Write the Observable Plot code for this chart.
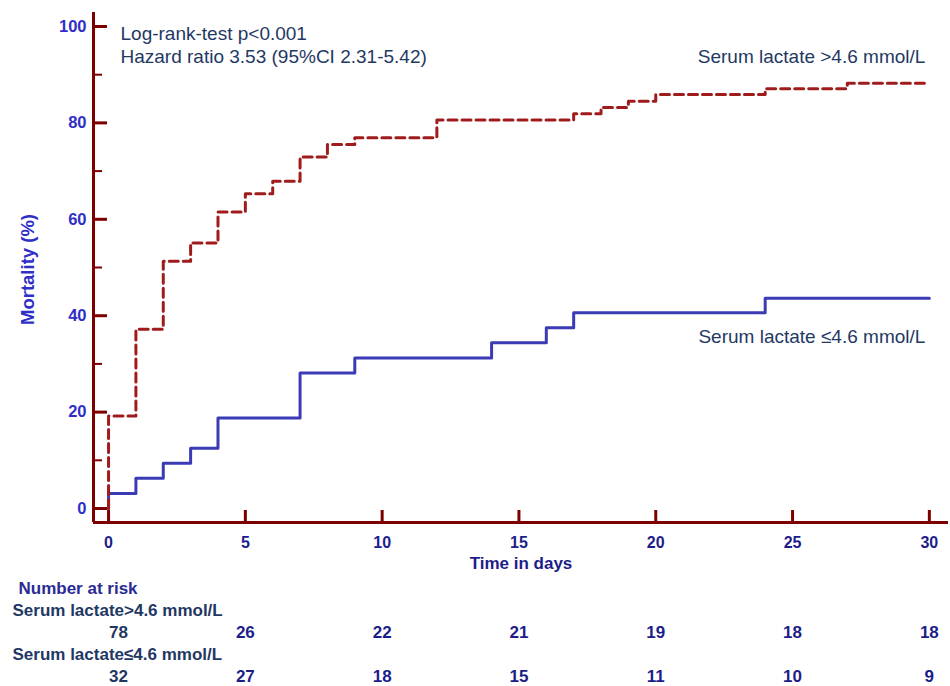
<!DOCTYPE html>
<html>
<head>
<meta charset="utf-8">
<script src="https://cdn.jsdelivr.net/npm/d3@7"></script>
<script src="https://cdn.jsdelivr.net/npm/@observablehq/plot@0.6"></script>
<style>
  html, body { margin: 0; padding: 0; background: #ffffff; }
  #chart svg { display: block; }
</style>
</head>
<body>
<div id="chart"></div>
<script>
// ---- data ----
const highTimes = [0, 0, 1, 2, 3, 4, 5, 6, 7, 8, 9, 12, 17, 18, 19, 20, 24, 27, 30];
const highMortality = [0, 19.2, 37.2, 51.3, 55.1, 61.5, 65.3, 67.9, 72.9, 75.5, 76.9, 80.6, 81.9, 83.2, 84.5, 85.9, 87.1, 88.2, 88.2];
const lowTimes = [0, 0, 1, 2, 3, 4, 7, 9, 14, 16, 17, 24, 30];
const lowMortality = [0, 3.1, 6.3, 9.4, 12.5, 18.8, 28.1, 31.2, 34.4, 37.5, 40.6, 43.6, 43.6];
const xTicks = [0, 5, 10, 15, 20, 25, 30];
const yTicks = [0, 20, 40, 60, 80, 100];
const yMinorTicks = [10, 30, 50, 70, 90];
const riskTimes = [0, 5, 10, 15, 20, 25, 30];
const riskHigh = [78, 26, 22, 21, 19, 18, 18];
const riskLow = [32, 27, 18, 15, 11, 10, 9];
const groupLabels = ["Serum lactate >4.6 mmol/L", "Serum lactate \u22644.6 mmol/L"];
const riskRowLabels = ["Serum lactate>4.6 mmol/L", "Serum lactate\u22644.6 mmol/L"];
const riskTitle = "Number at risk";
const statsLines = ["Log-rank-test p<0.001", "Hazard ratio 3.53 (95%CI 2.31-5.42)"];
const xTitle = "Time in days";
const yTitle = "Mortality (%)";

// ---- derived tables ----
const highData = highTimes.map((t, i) => ({t, m: highMortality[i]}));
const lowData = lowTimes.map((t, i) => ({t, m: lowMortality[i]}));
const riskData = [
  ...riskTimes.map((t, i) => ({t, row: "hi", n: riskHigh[i]})),
  ...riskTimes.map((t, i) => ({t, row: "lo", n: riskLow[i]}))
];
const rowKeys = ["head", "hiLabel", "hi", "loLabel", "lo"];
const rowLabelData = [{row: "hiLabel", label: riskRowLabels[0]}, {row: "loLabel", label: riskRowLabels[1]}];

// ---- styles ----
const FONT = "Arial, 'Liberation Sans', Helvetica, sans-serif";
const axisColor = "#7d0000";
const redLine = "#a01c1c";
const blueLine = "#3b3bb5";
const navy = "#1f3864";
const tickBlue = "#2f2fc8";
const darkBlue = "#1d1d8a";

const xDomain = [-0.55, 30.7];
const yDomain = [-2.9, 102.9];

const main = Plot.plot({
  width: 950,
  height: 577,
  marginLeft: 93,
  marginRight: 2,
  marginTop: 12,
  marginBottom: 55,
  style: {fontFamily: FONT, background: "#ffffff"},
  x: {domain: xDomain, label: null},
  y: {domain: yDomain, label: null},
  marks: [
    // axis lines
    Plot.ruleX([xDomain[0]], {stroke: axisColor, strokeWidth: 3}),
    Plot.ruleY([yDomain[0]], {stroke: axisColor, strokeWidth: 3}),
    // inward ticks
    Plot.ruleY(yTicks, {x1: xDomain[0], x2: xDomain[0], insetRight: -14, stroke: axisColor, strokeWidth: 3}),
    Plot.ruleY(yMinorTicks, {x1: xDomain[0], x2: xDomain[0], insetRight: -9, stroke: axisColor, strokeWidth: 2}),
    Plot.ruleX(xTicks, {y1: yDomain[0], y2: yDomain[0], insetTop: -12, stroke: axisColor, strokeWidth: 3}),
    // tick labels
    Plot.axisY(yTicks, {tickSize: 0, tickPadding: 7, fontSize: 16.5, fontWeight: "bold", color: tickBlue, label: null}),
    Plot.axisX(xTicks, {tickSize: 0, tickPadding: 14, fontSize: 16, fontWeight: "bold", color: darkBlue, label: null}),
    // curves
    Plot.line(lowData, {x: "t", y: "m", curve: "step-after", stroke: blueLine, strokeWidth: 3}),
    Plot.line(highData, {x: "t", y: "m", curve: "step-after", stroke: redLine, strokeWidth: 3, strokeDasharray: "9,5"}),
    // annotations
    Plot.text([statsLines.join("\n")], {frameAnchor: "top-left", dx: 27, dy: 10, lineAnchor: "top", textAnchor: "start", fontSize: 19, lineHeight: 1.26, fill: navy}),
    Plot.text([groupLabels[0]], {x: 30, y: 93.6, textAnchor: "end", dx: -4, fontSize: 19, fill: navy}),
    Plot.text([groupLabels[1]], {x: 30, y: 35.7, textAnchor: "end", dx: -4, fontSize: 19, fill: navy}),
    // axis titles
    Plot.text([yTitle], {frameAnchor: "left", textAnchor: "middle", rotate: -90, dx: -65, dy: 2, fontSize: 18.5, fontWeight: "bold", fill: tickBlue}),
    Plot.text([xTitle], {frameAnchor: "bottom", textAnchor: "middle", dy: 46, fontSize: 17, fontWeight: "bold", fill: darkBlue})
  ]
});

const table = Plot.plot({
  width: 950,
  height: 109,
  marginLeft: 93,
  marginRight: 2,
  marginTop: 11,
  marginBottom: 10,
  style: {fontFamily: FONT, background: "#ffffff"},
  x: {domain: xDomain, axis: null, label: null},
  y: {type: "point", domain: rowKeys, padding: 0, axis: null, label: null},
  marks: [
    Plot.text([riskTitle], {y: () => "head", frameAnchor: "left", dx: -75, textAnchor: "start", fontSize: 17, fontWeight: "bold", fill: "#2b2b95"}),
    Plot.text(rowLabelData, {y: "row", text: "label", frameAnchor: "left", dx: -81, textAnchor: "start", fontSize: 17, fontWeight: "bold", fill: navy}),
    Plot.text(riskData.filter(d => d.t === riskTimes[0]), {x: "t", y: "row", text: "n", dx: 10, fontSize: 17, fontWeight: "bold", fill: navy}),
    Plot.text(riskData.filter(d => d.t !== riskTimes[0]), {x: "t", y: "row", text: "n", fontSize: 17, fontWeight: "bold", fill: darkBlue})
  ]
});

const root = document.getElementById("chart");
root.appendChild(main);
root.appendChild(table);
</script>
</body>
</html>
